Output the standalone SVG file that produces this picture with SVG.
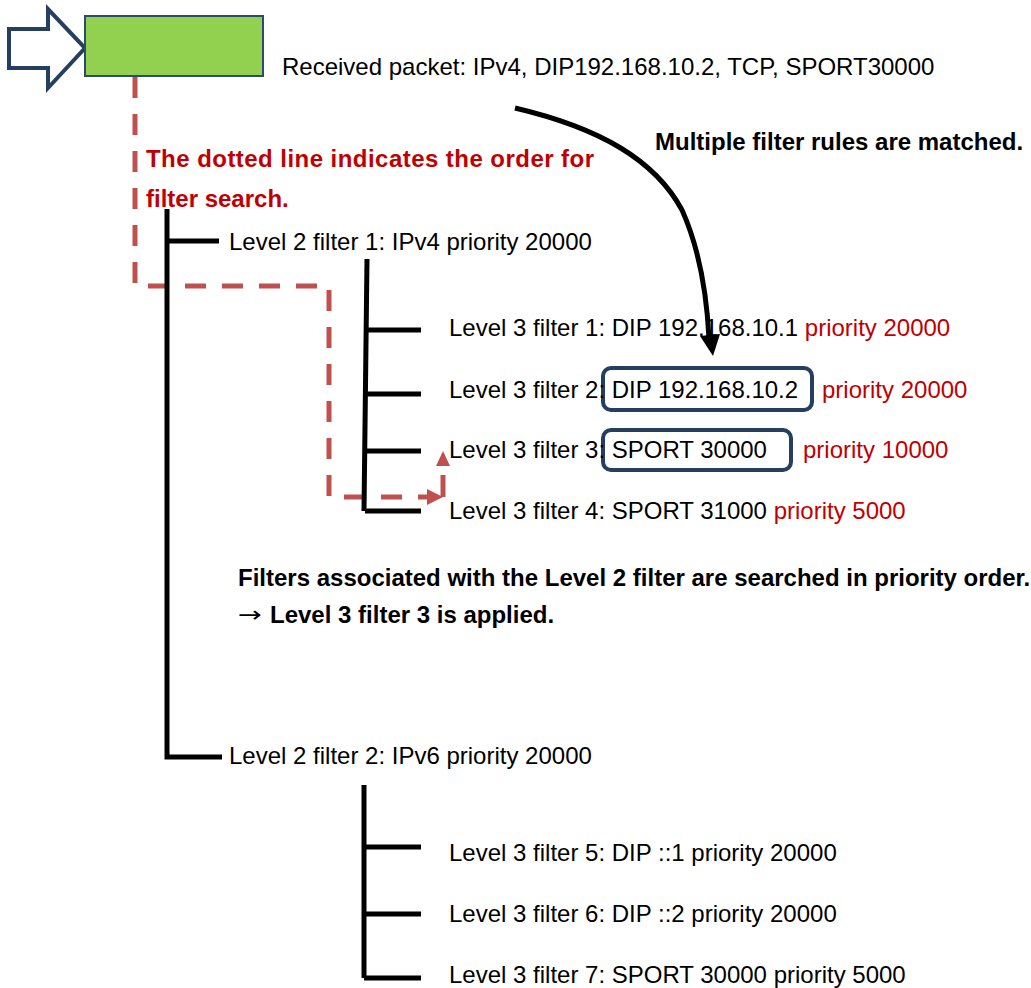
<svg xmlns="http://www.w3.org/2000/svg" width="1031" height="988" viewBox="0 0 1031 988">
<style>
text{font-family:"Liberation Sans",Arial,sans-serif;font-size:24px;fill:#000}
.b{font-weight:bold}
.r{fill:#C00000}
.tree{stroke:#000;stroke-width:5;fill:none}
.dash{stroke:#C0504D;stroke-width:5;fill:none;stroke-dasharray:21 16}
.hl{fill:none;stroke:#243F60;stroke-width:4}
</style>
<rect width="1031" height="988" fill="#fff"/>
<g id="input-arrow"><polygon points="9,29 48,29 48,9 85,48 48,88 48,68 9,68" fill="#fff" stroke="#243F60" stroke-width="4" stroke-linejoin="miter"/></g>
<g id="packet"><rect x="85" y="16" width="178" height="60" fill="#92D050" stroke="#2C4A6E" stroke-width="2"/>
<text x="282" y="75">Received packet: IPv4, DIP192.168.10.2, TCP, SPORT30000</text></g>
<g id="connectors">
<path class="dash" d="M135,77 V286 H329 V497 H428"/>
<polygon points="427,489 443,497 427,505" fill="#C0504D"/>
<path d="M443,497 V475" stroke="#C0504D" stroke-width="5"/>
<polygon points="436,466 443,451 450,466" fill="#C0504D"/>
<path class="tree" d="M167,209 V757 H222 M167,241 H219"/>
<path class="tree" d="M367,259 L364,511 M366,330 H421 M365,394 H421 M365,451 H421 M365,511 H421"/>
<path class="tree" d="M364,785 V978 M364,847 H421 M364,914 H421 M364,978 H421"/>
<path d="M515,108 C600,128 655,160 682,210 C700,250 707,300 709,338" stroke="#000" stroke-width="5" fill="none"/>
<polygon points="700,336 713,356 720,334" fill="#000"/>
</g>
<g id="note-red"><text class="b r" x="146" y="167" textLength="448" lengthAdjust="spacing">The dotted line indicates the order for</text>
<text class="b r" x="146" y="207">filter search.</text></g>
<g id="note-match"><text class="b" x="655" y="150">Multiple filter rules are matched.</text></g>
<g id="l2f1"><text x="229" y="250">Level 2 filter 1: IPv4 priority 20000</text></g>
<g id="l3f1"><text x="449" y="336">Level 3 filter 1: DIP 192.168.10.1 <tspan class="r">priority 20000</tspan></text></g>
<g id="l3f2"><rect class="hl" x="603" y="368" width="209" height="42" rx="8"/><text x="449" y="398">Level 3 filter 2: DIP 192.168.10.2</text><text class="r" x="822" y="398">priority 20000</text></g>
<g id="l3f3"><rect class="hl" x="603" y="430" width="188" height="40" rx="8"/><text x="449" y="458">Level 3 filter 3: SPORT 30000</text><text class="r" x="803" y="458">priority 10000</text></g>
<g id="l3f4"><text x="449" y="519">Level 3 filter 4: SPORT 31000 <tspan class="r">priority 5000</tspan></text></g>
<g id="note-order"><text class="b" x="238" y="586">Filters associated with the Level 2 filter are searched in priority order.</text>
<text x="238" y="622" textLength="24" lengthAdjust="spacingAndGlyphs" style="font-family:'DejaVu Sans',sans-serif;font-size:22px">→</text>
<text class="b" x="270" y="623">Level 3 filter 3 is applied.</text></g>
<g id="l2f2"><text x="229" y="764">Level 2 filter 2: IPv6 priority 20000</text></g>
<g id="l3f5"><text x="449" y="861">Level 3 filter 5: DIP ::1 priority 20000</text></g>
<g id="l3f6"><text x="449" y="922">Level 3 filter 6: DIP ::2 priority 20000</text></g>
<g id="l3f7"><text x="449" y="983">Level 3 filter 7: SPORT 30000 priority 5000</text></g>
</svg>
